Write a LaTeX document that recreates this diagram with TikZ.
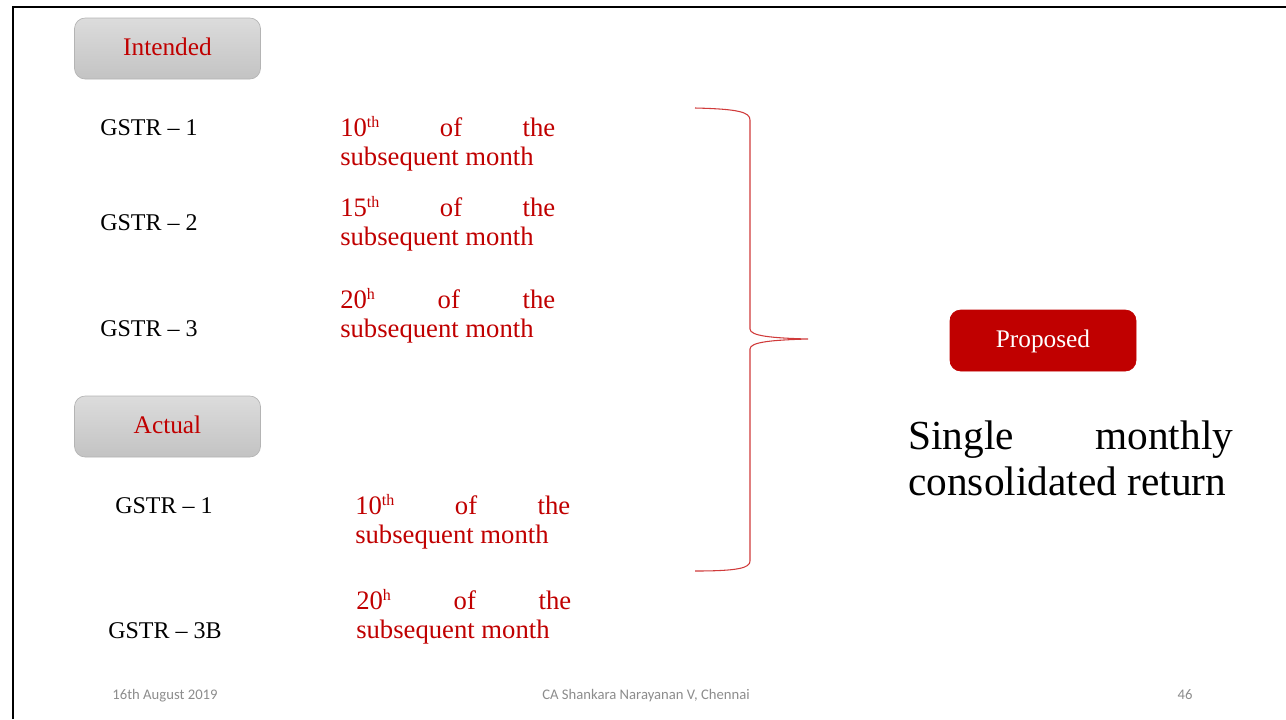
\documentclass[tikz,border=0pt]{standalone}
\usepackage{fontspec}
\setmainfont{Liberation Serif}
\newfontfamily\footfont{Carlito}
\usepackage{xcolor}
\usetikzlibrary{positioning}
\definecolor{gstred}{HTML}{C00000}
\definecolor{bracered}{HTML}{D03A3A}
\definecolor{tabtop}{HTML}{DCDCDC}
\definecolor{tabbot}{HTML}{C3C3C3}
\definecolor{tabstroke}{HTML}{B4B4B4}
\definecolor{footgrey}{HTML}{8C8C8C}
\tolerance=10000
\hyphenpenalty=10000
\tikzset{
  tab/.style    = {rounded corners=8pt, draw=tabstroke, top color=tabtop, bottom color=tabbot,
                   minimum width=186*0.75pt, minimum height=61*0.75pt, inner sep=0pt,
                   text height=13pt, text depth=3pt,
                   text=gstred, font=\fontsize{19}{21}\selectfont, line width=0.5pt},
  proptab/.style= {tab, draw=gstred, top color=gstred, bottom color=gstred, text=white},
  form/.style   = {anchor=base west, inner sep=0pt, font=\fontsize{18}{21}\selectfont},
  due/.style    = {anchor=north west, inner sep=0pt, text width=215*0.75pt, align=justify,
                   text=gstred, font=\fontsize{20}{21.5}\selectfont},
  bigtxt/.style = {anchor=north west, inner sep=0pt, text width=325*0.75pt, align=justify,
                   font=\fontsize{31}{34.5}\selectfont},
  foot/.style   = {anchor=base, inner sep=0pt, text=footgrey, font=\footfont\fontsize{11}{13}\selectfont},
}
\newcommand{\sublater}{subsequent month}
\newcommand{\ordsup}[1]{\raisebox{0.75ex}{\fontsize{12}{12}\selectfont #1}}
\begin{document}
\begin{tikzpicture}[x=0.75pt, y=-0.75pt]
  \useasboundingbox (0,0) rectangle (1286,719);
  % --- slide frame ---
  \draw[line width=1.6pt] (13,719) -- (13,7) -- (1286,7);

  % --- intended ---
  \node[tab] (intended) at (167.5,48.5) {Intended};
  \node[form] (gi1) at (100,135) {GSTR -- 1};
  \node[form] (gi2) at (100,230) {GSTR -- 2};
  \node[form] (gi3) at (100,336) {GSTR -- 3};
  \node[due] (di1) at (340,116) {10\ordsup{th} of the \sublater};
  \node[due] (di2) at (340,196) {15\ordsup{th} of the \sublater};
  \node[due] (di3) at (340,288) {20\ordsup{h} of the \sublater};

  % --- actual ---
  \node[tab] (actual) at (167.5,426.5) {Actual};
  \node[form] (ga1) at (115,513) {GSTR -- 1};
  \node[form] (ga3) at (108,638) {GSTR -- 3B};
  \node[due] (da1) at (355,494) {10\ordsup{th} of the \sublater};
  \node[due] (da3) at (356,589) {20\ordsup{h} of the \sublater};

  % --- brace ---
  \draw[bracered, line width=0.8pt]
    (695,108) .. controls (738,109) and (750,112) .. (750,120) -- (750,329)
    .. controls (750,336) and (772,338) .. (808,339)
    .. controls (772,340) and (750,342) .. (750,349) -- (750,561)
    .. controls (750,568) and (738,571) .. (695,571);

  % --- proposed ---
  \node[proptab] (proposed) at (1043,340.5) {Proposed};
  \node[bigtxt] (single) at (908,421) {Single monthly consolidated return};

  % --- footer ---
  \node[foot] (fdate) at (165,699) {16th August 2019};
  \node[foot] (fname) at (646,699) {CA Shankara Narayanan V, Chennai};
  \node[foot] (fpage) at (1185,699) {46};
\end{tikzpicture}
\end{document}
